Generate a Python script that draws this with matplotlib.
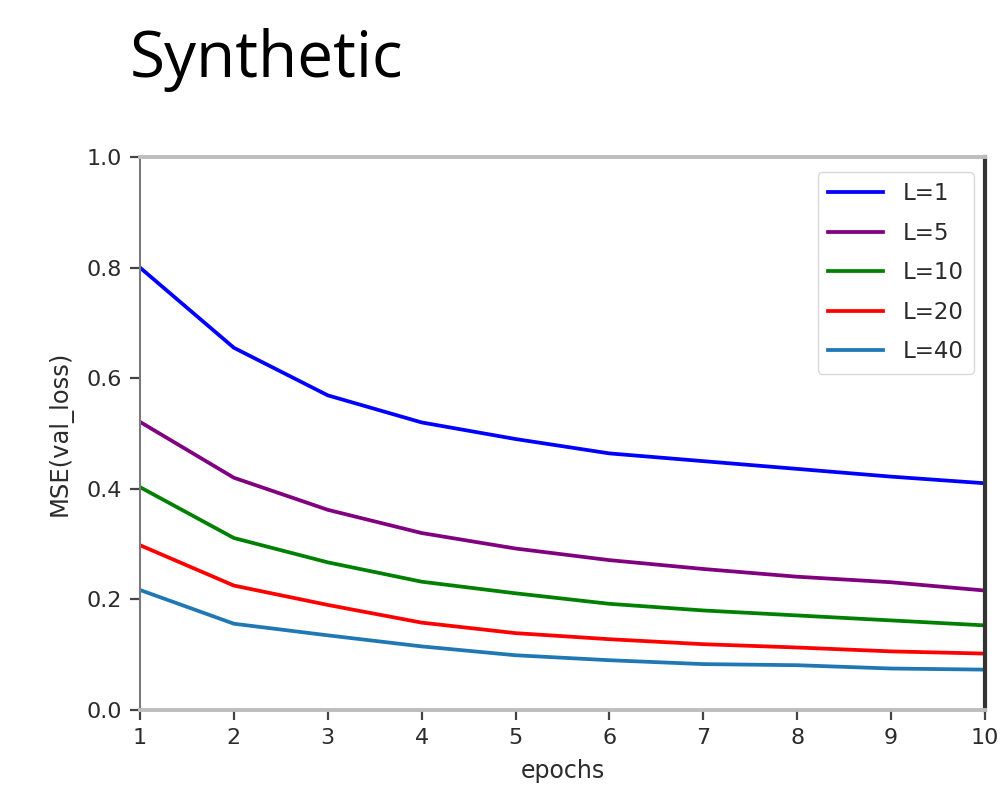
import matplotlib
matplotlib.use("Agg")
import matplotlib.pyplot as plt

# Validation MSE per epoch for several sequence lengths L
epochs = [1, 2, 3, 4, 5, 6, 7, 8, 9, 10]
labels = ["L=1", "L=5", "L=10", "L=20", "L=40"]
loss_l1 = [0.800, 0.655, 0.569, 0.520, 0.490, 0.464, 0.450, 0.436, 0.422, 0.410]
loss_l5 = [0.521, 0.420, 0.362, 0.320, 0.292, 0.271, 0.255, 0.241, 0.231, 0.216]
loss_l10 = [0.403, 0.311, 0.267, 0.232, 0.211, 0.192, 0.180, 0.171, 0.162, 0.153]
loss_l20 = [0.298, 0.225, 0.190, 0.158, 0.139, 0.128, 0.119, 0.113, 0.106, 0.102]
loss_l40 = [0.217, 0.156, 0.135, 0.115, 0.099, 0.090, 0.083, 0.081, 0.075, 0.073]
colors = ["blue", "purple", "green", "red", "#1f77b4"]
yticks = [0.0, 0.2, 0.4, 0.6, 0.8, 1.0]

W, H = 1000, 786
fig = plt.figure(figsize=(W / 100, H / 100), dpi=100)
ax = fig.add_axes([140 / W, 1 - 710 / H, 845 / W, 553 / H])

series = [loss_l1, loss_l5, loss_l10, loss_l20, loss_l40]
for vals, lab, col in zip(series, labels, colors):
    ax.plot(epochs, vals, color=col, lw=2.7, label=lab)

ax.set_xlim(1, 10)
ax.set_ylim(0, 1)
ax.set_xticks(epochs)
ax.set_yticks(yticks)
ax.set_yticklabels([f"{v:.1f}" for v in yticks])

tick_color = "#2b2b2b"
ax.tick_params(axis="both", labelsize=16, labelcolor=tick_color,
               color="#444444", length=7, width=1.6, pad=6)

ax.set_xlabel("epochs", fontsize=17, color=tick_color, labelpad=8)
ax.set_ylabel("MSE(val_loss)", fontsize=17.5, color=tick_color, labelpad=10)

ax.spines["top"].set_color("#bdbdbd")
ax.spines["top"].set_linewidth(2.8)
ax.spines["bottom"].set_color("#bdbdbd")
ax.spines["bottom"].set_linewidth(2.8)
ax.spines["left"].set_color("#7a7a7a")
ax.spines["left"].set_linewidth(1.5)
ax.spines["right"].set_color("#333333")
ax.spines["right"].set_linewidth(3.0)

leg = ax.legend(loc="upper right", fontsize=16.5, handlelength=2.4,
                handletextpad=0.85, labelspacing=0.72, borderpad=0.45,
                bbox_to_anchor=(1 - 11 / 845, 1 - 15 / 553), borderaxespad=0,
                framealpha=0.8, edgecolor="#d0d0d0")
for t in leg.get_texts():
    t.set_color(tick_color)

fig.text(130 / W, 1 - 77 / H, "Synthetic", fontsize=46,
         family=["Open Sans", "DejaVu Sans"], va="baseline", ha="left",
         color="black")

fig.savefig("out.png", dpi=100)
